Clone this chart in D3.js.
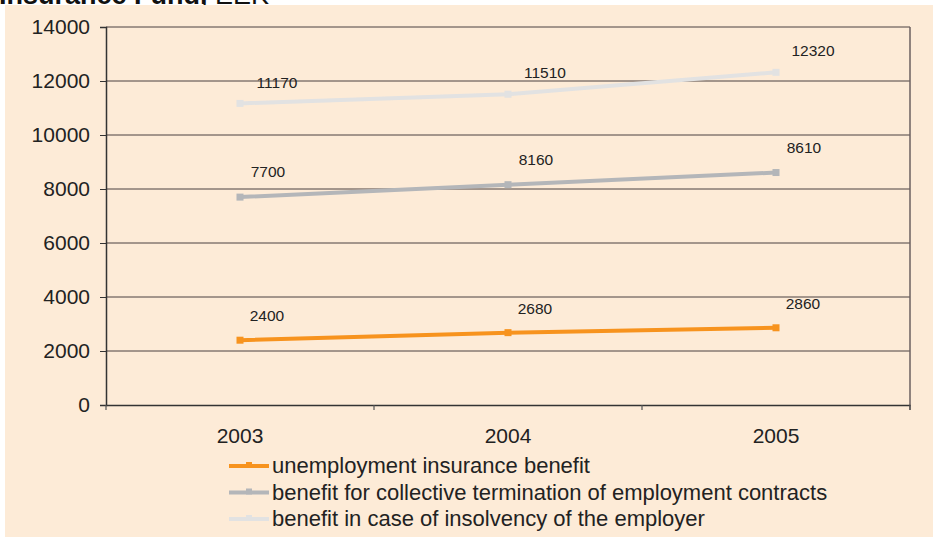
<!DOCTYPE html>
<html>
<head>
<meta charset="utf-8">
<script src="https://cdn.jsdelivr.net/npm/d3@7"></script>
<style>
  html, body { margin: 0; padding: 0; background: #ffffff; }
  svg { display: block; font-family: "Liberation Sans", Arial, sans-serif; }
</style>
</head>
<body>
<svg id="chart" width="933" height="537"></svg>
<script>
// Benefit amounts paid from the Unemployment Insurance Fund, EEK
const years = ["2003", "2004", "2005"];
const unemploymentBenefit = [2400, 2680, 2860];
const collectiveTermination = [7700, 8160, 8610];
const insolvencyBenefit = [11170, 11510, 12320];
const seriesNames = [
  "unemployment insurance benefit",
  "benefit for collective termination of employment contracts",
  "benefit in case of insolvency of the employer"
];
const yTicks = [0, 2000, 4000, 6000, 8000, 10000, 12000, 14000];

const series = [
  { name: seriesNames[0], values: unemploymentBenefit, color: "#F7931E", lab: [27, -23] },
  { name: seriesNames[1], values: collectiveTermination, color: "#B4B6B9", lab: [28, -24] },
  { name: seriesNames[2], values: insolvencyBenefit, color: "#E2E2E2", lab: [37, -20] }
];

const svg = d3.select("#chart");
const W = 933, H = 537;

// Title line running off the top edge
svg.append("text")
  .attr("x", -1).attr("y", 4)
  .attr("font-size", 27).attr("font-weight", "bold").attr("fill", "#111")
  .text("Insurance Fund, ")
  .append("tspan").attr("font-weight", "normal").text("EEK");

// Panel background
svg.append("rect")
  .attr("x", 5).attr("y", 5).attr("width", W - 5).attr("height", H - 5)
  .attr("fill", "#FDEBD7");

const plot = { left: 106, right: 910, top: 27, bottom: 405 };

const x = d3.scaleBand().domain(years).range([plot.left, plot.right]).padding(0);
const y = d3.scaleLinear().domain([0, 14000]).range([plot.bottom, plot.top]);

const g = svg.append("g");

// Horizontal gridlines
g.append("g")
  .selectAll("line").data(yTicks.filter(d => d > 0)).join("line")
  .attr("x1", plot.left).attr("x2", plot.right)
  .attr("y1", d => y(d)).attr("y2", d => y(d))
  .attr("stroke", "#4a4040").attr("stroke-width", 1);

// Right border of the plot area
g.append("line")
  .attr("x1", plot.right).attr("x2", plot.right)
  .attr("y1", plot.top).attr("y2", plot.bottom + 5)
  .attr("stroke", "#6b6060").attr("stroke-width", 1.5);

// Y axis
const yAxis = g.append("g")
  .attr("transform", `translate(${plot.left},0)`)
  .call(d3.axisLeft(y).tickValues(yTicks).tickSize(6).tickPadding(10).tickFormat(d3.format("d")));
yAxis.select(".domain").attr("stroke", "#333").attr("stroke-width", 1.5);
yAxis.selectAll(".tick line").attr("stroke", "#333");
yAxis.selectAll(".tick text")
  .attr("font-size", 21).attr("fill", "#222")
  .attr("font-family", "Liberation Sans, Arial, sans-serif");

// X axis with ticks between categories
const xAxis = g.append("g")
  .attr("transform", `translate(0,${plot.bottom})`)
  .call(d3.axisBottom(x).tickSize(0).tickPadding(23));
xAxis.select(".domain").attr("stroke", "#333").attr("stroke-width", 1.5);
xAxis.selectAll(".tick text")
  .attr("font-size", 21).attr("fill", "#222")
  .attr("font-family", "Liberation Sans, Arial, sans-serif");
g.append("g").selectAll("line")
  .data(years.map(d => x(d)).concat([x(years[years.length - 1]) + x.bandwidth()]))
  .join("line")
  .attr("x1", d => d).attr("x2", d => d)
  .attr("y1", plot.bottom).attr("y2", plot.bottom + 5)
  .attr("stroke", "#555").attr("stroke-width", 1.2);

// Series lines, markers and value labels
const line = d3.line()
  .x((d, i) => x(years[i]) + x.bandwidth() / 2)
  .y(d => y(d));

series.forEach(s => {
  const sg = g.append("g");
  sg.append("path")
    .datum(s.values)
    .attr("d", line)
    .attr("fill", "none")
    .attr("stroke", s.color)
    .attr("stroke-width", 4);
  sg.selectAll("rect").data(s.values).join("rect")
    .attr("x", (d, i) => x(years[i]) + x.bandwidth() / 2 - 3.5)
    .attr("y", d => y(d) - 3.5)
    .attr("width", 7).attr("height", 7)
    .attr("fill", s.color);
  sg.selectAll("text").data(s.values).join("text")
    .attr("x", (d, i) => x(years[i]) + x.bandwidth() / 2 + s.lab[0])
    .attr("y", d => y(d) + s.lab[1])
    .attr("text-anchor", "middle")
    .attr("dominant-baseline", "middle")
    .attr("font-size", 15.5).attr("fill", "#222")
    .text(d => d);
});

// Legend
const legend = svg.append("g");
series.forEach((s, i) => {
  const ly = 466 + i * 26.5;
  legend.append("line")
    .attr("x1", 229).attr("x2", 269).attr("y1", ly).attr("y2", ly)
    .attr("stroke", s.color).attr("stroke-width", 4);
  legend.append("rect")
    .attr("x", 246).attr("y", ly - 4).attr("width", 6).attr("height", 6)
    .attr("fill", s.color);
  legend.append("text")
    .attr("x", 272).attr("y", ly + 7)
    .attr("font-size", 22).attr("fill", "#222")
    .text(s.name);
});
</script>
</body>
</html>
